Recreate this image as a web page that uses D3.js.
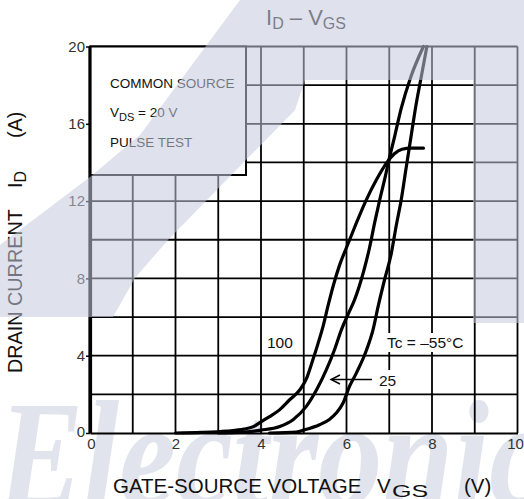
<!DOCTYPE html>
<html><head><meta charset="utf-8">
<script src="https://cdn.jsdelivr.net/npm/d3@7"></script>
<style>body{margin:0;background:#fff}svg{display:block}text{font-family:"Liberation Sans",Arial,sans-serif}</style>
</head><body><svg id="c" width="524" height="499"></svg>
<script>
// ---- data ----
const xTicks = [0, 2, 4, 6, 8, 10];
const yTicks = [0, 4, 8, 12, 16, 20];
const xGrid = [1, 2, 3, 4, 5, 6, 7, 8, 9, 10];
const yGrid = [2, 4, 6, 8, 10, 12, 14, 16, 18, 20];

const vgs100 = [2.0, 2.6, 3.2, 3.6, 3.82, 4.0, 4.2, 4.44, 4.67, 4.91, 5.06, 5.2, 5.33, 5.45, 5.57, 5.7, 5.84, 6.0, 6.2, 6.45, 6.7, 6.93, 7.12, 7.3, 7.5, 7.8];
const id100  = [0, 0.03, 0.1, 0.2, 0.33, 0.58, 0.85, 1.21, 1.72, 2.24, 2.8, 3.7, 4.6, 5.5, 6.6, 7.7, 8.7, 9.6, 10.7, 12.0, 13.1, 13.95, 14.45, 14.68, 14.74, 14.74];

const vgs25 = [3.0, 3.6, 4.0, 4.44, 4.75, 5.06, 5.3, 5.53, 5.72, 5.88, 6.05, 6.19, 6.39, 6.54, 6.66, 6.76, 6.9, 7.0, 7.1, 7.28, 7.5, 7.8];
const id25  = [0, 0.05, 0.15, 0.34, 0.69, 1.38, 2.24, 3.28, 4.31, 5.34, 6.2, 6.9, 8.28, 9.6, 10.9, 11.9, 13.2, 14.2, 15.1, 16.8, 18.4, 20];

const vgsM55 = [4.2, 4.83, 5.0, 5.37, 5.6, 5.76, 5.92, 6.07, 6.23, 6.47, 6.62, 6.74, 6.89, 7.05, 7.16, 7.28, 7.4, 7.5, 7.62, 7.75, 7.88];
const idM55  = [0, 0.05, 0.15, 0.43, 0.7, 1.03, 1.55, 2.41, 3.1, 4.31, 5.34, 6.55, 7.93, 9.31, 10.69, 12.07, 13.79, 15.2, 16.9, 18.45, 20];

const legendLines = ["COMMON SOURCE", "PULSE TEST"];

// ---- drawing ----
const svg = d3.select("#c");
const x = d3.scaleLinear([0, 10], [90, 517.5]);
const y = d3.scaleLinear([0, 20], [433, 46.5]);

// watermark text (beneath)
svg.append("text")
  .attr("transform", "translate(-2,506) scale(1,1.3)")
  .attr("font-weight", "bold").attr("font-style", "italic")
  .attr("font-size", 118)
  .attr("textLength", 548).attr("lengthAdjust", "spacingAndGlyphs")
  .attr("fill", "rgb(196,201,220)").attr("fill-opacity", 0.5)
  .style("font-family", '"Liberation Serif", serif')
  .text("Electronic");

// grid
svg.append("g").selectAll("line").data(xGrid).join("line")
  .attr("x1", d => x(d)).attr("x2", d => x(d))
  .attr("y1", y(0)).attr("y2", y(20))
  .attr("stroke", "#000").attr("stroke-width", 1.8);
svg.append("g").selectAll("line").data(yGrid).join("line")
  .attr("x1", x(0)).attr("x2", x(10))
  .attr("y1", d => y(d)).attr("y2", d => y(d))
  .attr("stroke", "#000").attr("stroke-width", 1.8);

// axes
const ax = svg.append("g").attr("transform", `translate(0,${y(0)})`)
  .call(d3.axisBottom(x).tickValues(xTicks).tickSize(0).tickSizeOuter(0).tickPadding(5));
ax.select(".domain").attr("stroke", "#000").attr("stroke-width", 2.2);
ax.selectAll("text").attr("font-size", 15).attr("fill", "#333")
  .attr("dx", d => d === 10 ? -2.5 : (d === 0 ? 1 : 0))
  .style("font-family", '"Liberation Sans", Arial, sans-serif');

const ay = svg.append("g").attr("transform", `translate(${x(0)},0)`)
  .call(d3.axisLeft(y).tickValues(yTicks).tickSize(4).tickSizeOuter(0).tickPadding(1));
ay.select(".domain").attr("stroke", "#000").attr("stroke-width", 3.2);
ay.selectAll(".tick line").attr("stroke", "#000").attr("stroke-width", 1.5);
ay.selectAll("text").attr("font-size", 15).attr("fill", "#333")
  .attr("dy", d => d === 0 ? "0.2em" : "0.32em")
  .style("font-family", '"Liberation Sans", Arial, sans-serif');

// legend box
svg.append("rect").attr("x", x(0)).attr("y", y(20))
  .attr("width", 156).attr("height", 128.5)
  .attr("fill", "#fff").attr("stroke", "#000").attr("stroke-width", 2);
svg.append("line").attr("x1", x(0)).attr("x2", x(0)).attr("y1", y(20)).attr("y2", y(0))
  .attr("stroke", "#000").attr("stroke-width", 3.2);
svg.append("text").attr("x", 110).attr("y", 88.3).attr("font-size", 13.5).attr("fill", "#111").text(legendLines[0]);
const vds = svg.append("text").attr("x", 110).attr("y", 116.5).attr("font-size", 13.5).attr("fill", "#111");
vds.append("tspan").text("V");
vds.append("tspan").attr("font-size", 11).attr("dy", 4).text("DS");
vds.append("tspan").attr("dy", -4).text(" = 20 V");
svg.append("text").attr("x", 110).attr("y", 147.3).attr("font-size", 13.5).attr("fill", "#111").text(legendLines[1]);

// label backgrounds
svg.append("rect").attr("x", 265).attr("y", 333).attr("width", 30).attr("height", 19).attr("fill", "#fff");
svg.append("rect").attr("x", 385).attr("y", 333).attr("width", 86).attr("height", 19).attr("fill", "#fff");
svg.append("rect").attr("x", 376).attr("y", 370).attr("width", 23).attr("height", 19).attr("fill", "#fff");

// curves
const line = d3.line().x(d => x(d[0])).y(d => y(d[1])).curve(d3.curveMonotoneX);
const series = [d3.zip(vgs100, id100), d3.zip(vgs25, id25), d3.zip(vgsM55, idM55)];
svg.append("g").selectAll("path").data(series).join("path")
  .attr("d", line).attr("fill", "none").attr("stroke", "#000")
  .attr("stroke-width", 3.2).attr("stroke-linecap", "round").attr("stroke-linejoin", "round");

// curve labels
svg.append("text").attr("x", 267).attr("y", 348).attr("font-size", 15.5).attr("fill", "#111").text("100");
svg.append("text").attr("x", 387).attr("y", 348).attr("font-size", 15.5).attr("fill", "#111").text("Tc = \u201355\u00B0C");
svg.append("text").attr("x", 379).attr("y", 385.5).attr("font-size", 15.5).attr("fill", "#111").text("25");
svg.append("line").attr("x1", 372).attr("x2", 332).attr("y1", 379.5).attr("y2", 379.5)
  .attr("stroke", "#000").attr("stroke-width", 1.4);
svg.append("path").attr("d", "M340,375 L331,379.5 L340,384").attr("fill", "none")
  .attr("stroke", "#000").attr("stroke-width", 1.4);

// title
const t = svg.append("text").attr("x", 266).attr("y", 25).attr("font-size", 22).attr("fill", "#222");
t.append("tspan").text("I");
t.append("tspan").attr("font-size", 16).attr("dy", 3.5).text("D");
t.append("tspan").attr("dy", -3.5).text(" \u2013 V");
t.append("tspan").attr("font-size", 16).attr("dy", 3.5).text("GS");

// x axis title
svg.append("text").attr("x", 113).attr("y", 493).attr("font-size", 20.5).attr("fill", "#111").text("GATE-SOURCE VOLTAGE");
svg.append("text").attr("x", 377).attr("y", 493).attr("font-size", 20.5).attr("fill", "#111").text("V");
svg.append("text").attr("x", 392).attr("y", 497).attr("font-size", 16.5)
  .attr("textLength", 36).attr("lengthAdjust", "spacingAndGlyphs").attr("fill", "#111").text("GS");
svg.append("text").attr("x", 464).attr("y", 493).attr("font-size", 20.5).attr("fill", "#111").text("(V)");

// y axis title (rotated)
const yt = svg.append("g").attr("transform", "translate(22,0) rotate(-90)");
yt.append("text").attr("x", -373).attr("y", 0).attr("font-size", 19.8).attr("fill", "#111").text("DRAIN CURRENT");
const yi = yt.append("text").attr("x", -188).attr("y", 0).attr("font-size", 19.8).attr("fill", "#111");
yi.append("tspan").text("I");
yi.append("tspan").attr("font-size", 16).attr("dy", 4).text("D");
yt.append("text").attr("x", -138).attr("y", 0).attr("font-size", 19.8).attr("fill", "#111").text("(A)");

// watermark overlay band (on top)
const band = [[240,0],[524,0],[524,323],[473,323],[473,80],[305,80],[295,110],[205,202],[168,240],[135,278],[113,317],[0,317],[0,245],[90,177],[140,135],[240,0]];
svg.append("path").attr("d", d3.line()(band))
  .attr("fill", "rgb(196,201,220)").attr("fill-opacity", 0.55).attr("stroke", "none");
</script></body></html>
